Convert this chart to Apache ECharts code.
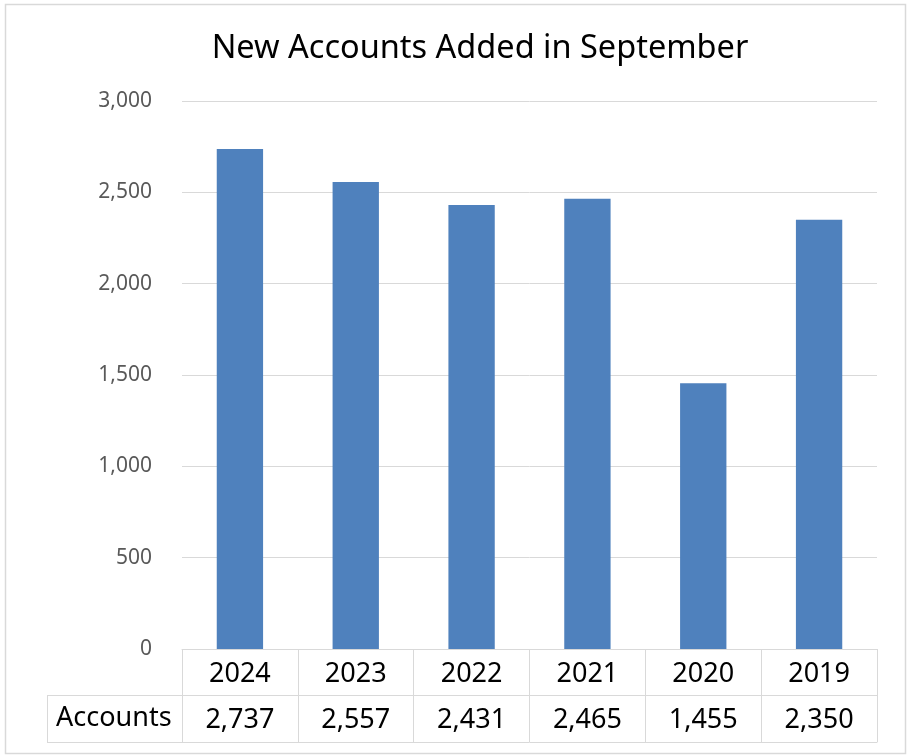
<!DOCTYPE html>
<html>
<head>
<meta charset="utf-8">
<script src="https://cdn.jsdelivr.net/npm/echarts@6/dist/echarts.min.js"></script>
<style>
  html, body { margin: 0; padding: 0; background: #fff; }
  #chart { width: 907px; height: 756px; }
</style>
</head>
<body>
<div id="chart"></div>
<script>
// data
const years = ['2024', '2023', '2022', '2021', '2020', '2019'];
const accounts = [2737, 2557, 2431, 2465, 1455, 2350];
const yTicks = { min: 0, max: 3000, interval: 500 };

const fmt = v => v.toLocaleString('en-US');
const gridColor = '#d9d9d9';
const tableFont = "'Noto Sans', sans-serif";

const chart = echarts.init(document.getElementById('chart'));

chart.setOption({
  animation: false,
  title: {
    text: 'New Accounts Added in September',
    left: 475,
    top: 27,
    textAlign: 'center',
    textStyle: { fontFamily: 'Noto Sans', fontWeight: 'normal', fontSize: 32.5, color: '#000' }
  },
  grid: { left: 182, right: 30, top: 101, bottom: 107 },
  yAxis: {
    type: 'value',
    min: yTicks.min, max: yTicks.max, interval: yTicks.interval,
    axisLine: { show: false },
    axisTick: { show: false },
    axisLabel: { formatter: fmt, color: '#595959', fontFamily: 'Noto Sans', fontSize: 21, margin: 30 },
    splitLine: { lineStyle: { color: gridColor, width: 1 } }
  },
  xAxis: [
    {
      // years row
      type: 'category', data: years, position: 'bottom',
      axisLine: { lineStyle: { color: gridColor, width: 1 } },
      axisTick: { show: true, interval: 0, length: 93, lineStyle: { color: gridColor } },
      axisLabel: { color: '#000', fontFamily: tableFont, fontSize: 27, margin: 12 }
    },
    {
      // values row
      type: 'category', data: accounts.map(fmt), position: 'bottom', offset: 46,
      axisLine: { lineStyle: { color: gridColor, width: 1 } },
      axisTick: { show: false },
      axisLabel: { color: '#000', fontFamily: tableFont, fontSize: 27, margin: 12 }
    },
    {
      // table bottom line
      type: 'category', data: years, position: 'bottom', offset: 93,
      axisLine: { lineStyle: { color: gridColor, width: 1 } },
      axisTick: { show: false },
      axisLabel: { show: false }
    }
  ],
  series: [{
    type: 'bar',
    data: accounts,
    xAxisIndex: 0,
    barWidth: '40%',
    itemStyle: { color: '#4f81bd' }
  }],
  graphic: [
    { type: 'rect', left: 3, top: 2, shape: { width: 900, height: 749 },
      style: { fill: 'none', stroke: gridColor, lineWidth: 1.5 }, silent: true },
    { type: 'line', shape: { x1: 47, y1: 695.5, x2: 182, y2: 695.5 }, style: { stroke: gridColor, lineWidth: 1 } },
    { type: 'line', shape: { x1: 47, y1: 742.5, x2: 182, y2: 742.5 }, style: { stroke: gridColor, lineWidth: 1 } },
    { type: 'line', shape: { x1: 47.5, y1: 695, x2: 47.5, y2: 742 }, style: { stroke: gridColor, lineWidth: 1 } },
    { type: 'text', left: 56, top: 705,
      style: { text: 'Accounts', fill: '#000', font: "27px " + tableFont } }
  ]
});
</script>
</body>
</html>
